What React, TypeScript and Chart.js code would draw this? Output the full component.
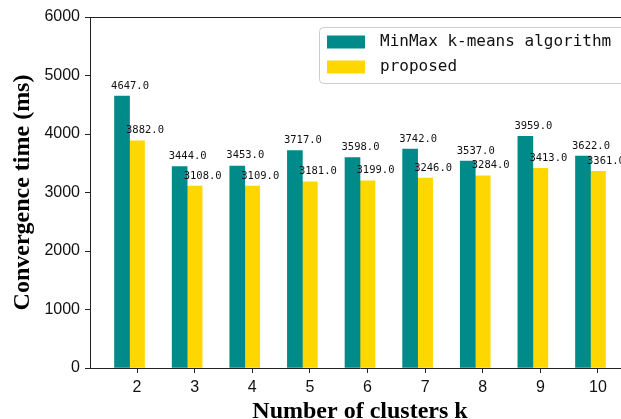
import React, { useEffect, useRef } from "react";
import { Chart, registerables } from "chart.js";
Chart.register(...registerables);

const clusters = [2, 3, 4, 5, 6, 7, 8, 9, 10];
const minmax = [4647, 3444, 3453, 3717, 3598, 3742, 3537, 3959, 3622];
const proposed = [3882, 3108, 3109, 3181, 3199, 3246, 3284, 3413, 3361];
const yTicks = [0, 1000, 2000, 3000, 4000, 5000, 6000];
const seriesNames = ["MinMax k-means algorithm", "proposed"];
const seriesColors = ["#008B8A", "#FFD700"];
const xTitle = "Number of clusters k";
const yTitle = "Convergence time (ms)";
const BAR_W = 0.26;

const CW = 660;
const CH = 419;
const AXIS_COLOR = "#222";

const overlay = {
  id: "overlay",
  afterDraw(chart: any) {
    const ctx = chart.ctx;
    const a = chart.chartArea;
    ctx.save();
    // top & right spines
    ctx.strokeStyle = AXIS_COLOR;
    ctx.lineWidth = 1;
    ctx.beginPath();
    ctx.moveTo(a.left, Math.round(a.top) + 0.5);
    ctx.lineTo(a.right, Math.round(a.top) + 0.5);
    ctx.moveTo(Math.round(a.right) + 0.5, a.top);
    ctx.lineTo(Math.round(a.right) + 0.5, a.bottom);
    ctx.stroke();

    // value labels
    ctx.fillStyle = "#111";
    ctx.font = "10.5px 'DejaVu Sans Mono'";
    ctx.textAlign = "center";
    ctx.textBaseline = "bottom";
    chart.data.datasets.forEach((ds: any, di: number) => {
      const meta = chart.getDatasetMeta(di);
      meta.data.forEach((el: any, i: number) => {
        const v = ds.data[i].y;
        ctx.fillText(v.toFixed(1), el.x + 8, el.y - 5);
      });
    });

    // legend
    const lx = 319, ly = 27, lw = 318, lh = 56;
    ctx.fillStyle = "rgba(255,255,255,0.85)";
    ctx.strokeStyle = "#cccccc";
    ctx.lineWidth = 1;
    ctx.beginPath();
    (ctx as any).roundRect(lx + 0.5, ly + 0.5, lw, lh, 4);
    ctx.fill();
    ctx.stroke();
    ctx.font = "16px 'DejaVu Sans Mono'";
    ctx.textAlign = "left";
    ctx.textBaseline = "middle";
    chart.data.datasets.forEach((ds: any, di: number) => {
      const cy = 42 + di * 25;
      ctx.fillStyle = ds.backgroundColor;
      ctx.fillRect(327, cy - 6.5, 38, 13);
      ctx.fillStyle = "#111";
      ctx.fillText(ds.label, 380, cy);
    });

    // axis titles
    ctx.fillStyle = "#000";
    ctx.font = "bold 24px 'Liberation Serif'";
    ctx.textAlign = "center";
    ctx.textBaseline = "alphabetic";
    ctx.fillText(xTitle, (a.left + a.right) / 2, 418);
    ctx.save();
    ctx.translate(29, (a.top + a.bottom) / 2);
    ctx.rotate(-Math.PI / 2);
    ctx.fillText(yTitle, 0, 0);
    ctx.restore();
    ctx.restore();
  },
};

export default function App() {
  const ref = useRef<HTMLCanvasElement>(null);
  useEffect(() => {
    if (!ref.current) return;
    const chart = new Chart(ref.current, {
      type: "bar",
      data: {
        datasets: [
          {
            label: seriesNames[0],
            data: clusters.map((k, i) => ({ x: k - BAR_W, y: minmax[i] })),
            backgroundColor: seriesColors[0],
            barThickness: 15,
            grouped: false,
          } as any,
          {
            label: seriesNames[1],
            data: clusters.map((k, i) => ({ x: k, y: proposed[i] })),
            backgroundColor: seriesColors[1],
            barThickness: 15,
            grouped: false,
          } as any,
        ],
      },
      options: {
        responsive: false,
        animation: false,
        devicePixelRatio: 1,
        layout: { padding: { top: 17, right: CW - 630, left: 0, bottom: 0 } },
        plugins: { legend: { display: false }, tooltip: { enabled: false } },
        scales: {
          x: {
            type: "linear",
            offset: false,
            min: 1.184,
            max: 10.556,
            afterBuildTicks: (s: any) => {
              s.ticks = clusters.map((v) => ({ value: v }));
            },
            afterFit: (s: any) => {
              s.height = CH - 368;
            },
            grid: {
              display: true,
              offset: false,
              drawOnChartArea: false,
              drawTicks: true,
              tickLength: 5,
              color: AXIS_COLOR,
            },
            border: { display: true, color: AXIS_COLOR, width: 1 },
            ticks: {
              color: "#111",
              font: { family: "'Liberation Sans'", size: 16 },
              padding: 5,
              autoSkip: false,
              maxRotation: 0,
            },
          } as any,
          y: {
            min: 0,
            max: 6000,
            afterBuildTicks: (s: any) => {
              s.ticks = yTicks.map((v) => ({ value: v }));
            },
            afterFit: (s: any) => {
              s.width = 90;
            },
            grid: {
              display: true,
              drawOnChartArea: false,
              drawTicks: true,
              tickLength: 5,
              color: AXIS_COLOR,
            },
            border: { display: true, color: AXIS_COLOR, width: 1 },
            ticks: {
              color: "#111",
              font: { family: "'Liberation Sans'", size: 16 },
              padding: 5,
              callback: (v: any) => String(v),
            },
          } as any,
        },
      },
      plugins: [overlay],
    });
    return () => chart.destroy();
  }, []);
  return (
    <div
      style={{
        position: "fixed",
        left: 0,
        top: 0,
        width: 621,
        height: 419,
        overflow: "hidden",
        background: "#fff",
      }}
    >
      <canvas ref={ref} width={CW} height={CH} style={{ display: "block" }} />
    </div>
  );
}
